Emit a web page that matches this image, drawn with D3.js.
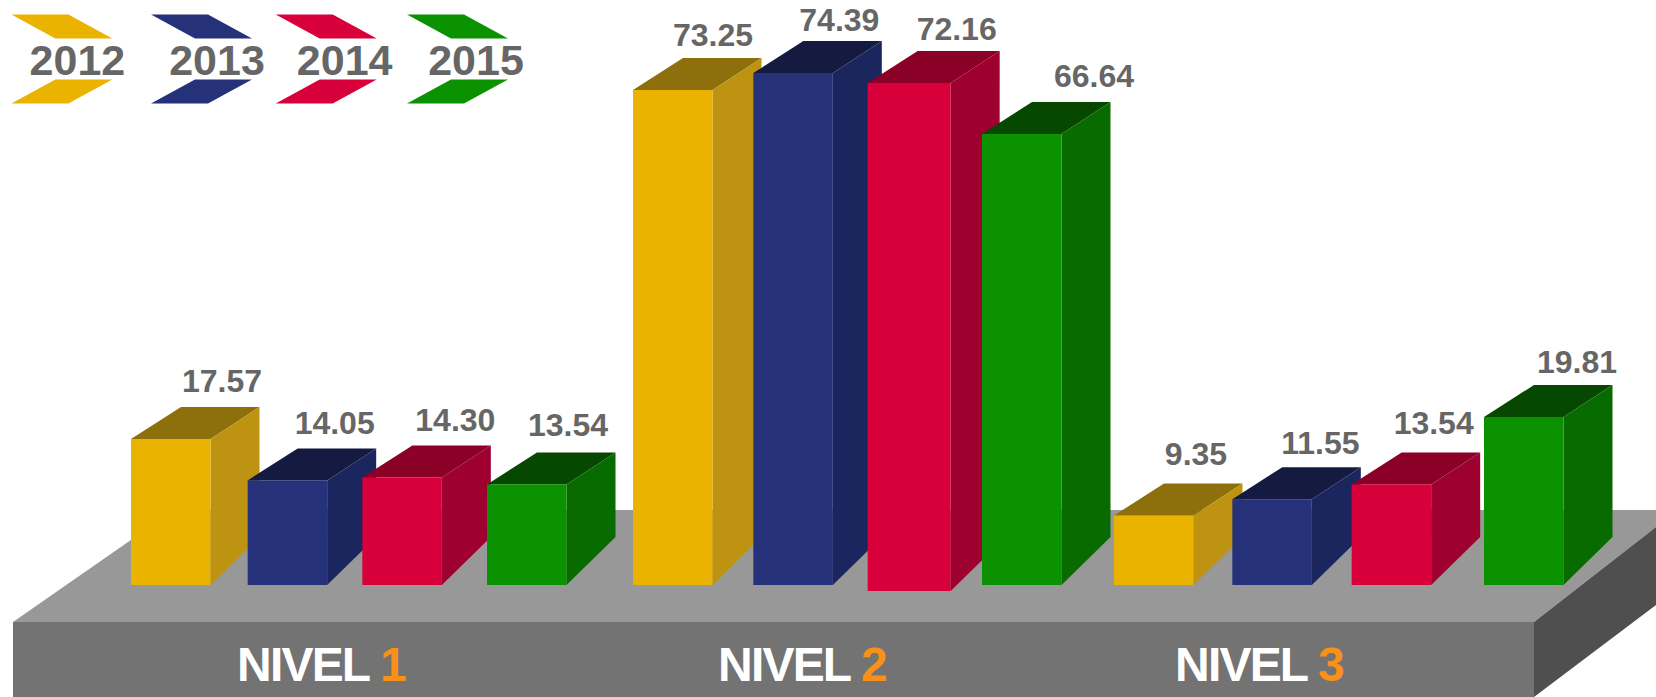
<!DOCTYPE html>
<html>
<head>
<meta charset="utf-8">
<script src="https://cdn.jsdelivr.net/npm/d3@7"></script>
<style>
  body { margin: 0; background: #fff; }
  svg { display: block; }
  text { font-family: "Liberation Sans", Arial, sans-serif; font-weight: bold; }
</style>
</head>
<body>
<svg id="chart"></svg>
<script>
const levels = ["NIVEL 1", "NIVEL 2", "NIVEL 3"];
const levelNumbers = ["1", "2", "3"];
const years = ["2012", "2013", "2014", "2015"];

const values2012 = [17.57, 73.25, 9.35];
const values2013 = [14.05, 74.39, 11.55];
const values2014 = [14.30, 72.16, 13.54];
const values2015 = [13.54, 66.64, 19.81];
const seriesValues = [values2012, values2013, values2014, values2015];

const frontColors = ["#eab300", "#25327a", "#d7003a", "#0a9200"];
const sideColors = ["#bd9311", "#1c265e", "#9e002f", "#086b00"];
const topColors = ["#8d700c", "#141a40", "#8a0027", "#064800"];

const svgWidth = 1656, svgHeight = 697;
const svg = d3.select("#chart").attr("width", svgWidth).attr("height", svgHeight);

const poly = pts => pts.map(p => p.join(",")).join(" ");

// Platform
const platformTop = 622, platformBack = 510, platformLeft = 13, platformRight = 1534;
svg.append("polygon").attr("fill", "#989898").attr("points", poly([
  [platformLeft, platformTop], [platformRight, platformTop], [svgWidth, 527],
  [svgWidth, platformBack], [174, platformBack]
]));
svg.append("polygon").attr("fill", "#4f4f4f").attr("points", poly([
  [platformRight, platformTop], [svgWidth, 527], [svgWidth, 605], [platformRight, svgHeight]
]));
svg.append("rect").attr("x", platformLeft).attr("y", platformTop)
  .attr("width", platformRight - platformLeft).attr("height", svgHeight - platformTop)
  .attr("fill", "#737373");

// The bars in the picture are not drawn to one scale, so the height scale has several segments
const barHeight = d3.scaleLinear()
  .domain([0, 14, 17.57, 19.81, 66.64, 72.16, 73.25, 74.39])
  .range([0, 104, 146, 168, 451, 502, 495, 512]);

// Each level spreads its four bars over its own stretch of the platform
const levelSpan = d3.scaleOrdinal().domain(levels).range([[131, 487], [633, 982], [1114, 1484]]);
const barX = level => d3.scalePoint().domain(years).range(levelSpan(level));

// the picture is hand placed: small shifts from the even spacing, per level then year
const barNudge = [[0, -2, -6, 0], [0, 4, 2, 0], [0, -5, -9, 0]];
const labelNudgeX = [[3, -1, 5, -7], [-8, -2, 1, 24], [-6, 0, -6, 5]];
const labelNudgeY = [[1, 0, 0, 2], [-2, -4, -3, 1], [5, -1, 4, -2]];

const baseY = 585, barWidth = 79.5;
const depthX = 49, depthTop = 32, depthBottom = 48;

const bars = [];
levels.forEach((level, i) => {
  years.forEach((year, j) => {
    const left = barX(level)(year) + barNudge[i][j];
    const top = baseY - barHeight(seriesValues[j][i]);
    bars.push({ level, year, value: seriesValues[j][i], colorIndex: j, left, top,
      labelX: left + 88 + labelNudgeX[i][j], labelY: top - 46 - labelNudgeY[i][j] });
  });
});

const barGroups = svg.selectAll("g.bar").data(bars).join("g").attr("class", "bar");

barGroups.each(function (d) {
  const g = d3.select(this);
  // the tall red bar hangs a little lower and is a little wider in the picture
  const big = d.level === "NIVEL 2" && d.year === "2014";
  const base = baseY + (big ? 6 : 0);
  const right = d.left + barWidth + (big ? 3.5 : 0);

  g.append("polygon").attr("fill", topColors[d.colorIndex]).attr("points", poly([
    [d.left, d.top], [right, d.top], [right + depthX, d.top - depthTop], [d.left + depthX + 1, d.top - depthTop]
  ]));
  g.append("polygon").attr("fill", sideColors[d.colorIndex]).attr("points", poly([
    [right, d.top], [right + depthX, d.top - depthTop], [right + depthX, base - depthBottom], [right, base]
  ]));
  g.append("rect").attr("x", d.left).attr("y", d.top).attr("width", right - d.left).attr("height", base - d.top)
    .attr("fill", frontColors[d.colorIndex]);
});

// Value labels sit on top of all the bars
svg.selectAll("text.value").data(bars).join("text")
  .attr("class", "value")
  .attr("x", d => d.labelX)
  .attr("y", d => d.labelY)
  .attr("text-anchor", "middle")
  .attr("font-size", 32)
  .attr("fill", "#666")
  .text(d => d.value.toFixed(2));

// Level labels
const levelLabelX = d3.scaleOrdinal().domain(levels).range([321, 802, 1259]);
levels.forEach((level, i) => {
  const label = svg.append("text")
    .attr("x", levelLabelX(level))
    .attr("y", 681)
    .attr("text-anchor", "middle")
    .attr("font-size", 48)
    .attr("letter-spacing", -1.8)
    .attr("fill", "#fff");
  label.append("tspan").text("NIVEL ");
  label.append("tspan").attr("fill", "#f8901a").text(levelNumbers[i]);
});

// Legend
const legendX = d3.scaleOrdinal().domain(years).range([11.4, 151, 275.7, 407]);
const legendTextDx = [66, 66, 69, 69];
const chevronWidth = 57, chevronSkew = 44;
const legend = svg.selectAll("g.legend").data(years).join("g")
  .attr("class", "legend")
  .attr("transform", d => `translate(${legendX(d)},0)`);

legend.append("polygon").attr("fill", (d, i) => frontColors[i]).attr("points", poly([
  [0, 14.5], [chevronWidth, 14.5], [chevronWidth + chevronSkew, 38.5], [chevronSkew, 38.5]
]));
legend.append("polygon").attr("fill", (d, i) => frontColors[i]).attr("points", poly([
  [chevronSkew, 79.5], [chevronWidth + chevronSkew, 79.5], [chevronWidth, 103.5], [0, 103.5]
]));
legend.append("text")
  .attr("x", (d, i) => legendTextDx[i])
  .attr("y", 74.5)
  .attr("text-anchor", "middle")
  .attr("font-size", 43)
  .attr("fill", "#666")
  .text(d => d);
</script>
</body>
</html>
